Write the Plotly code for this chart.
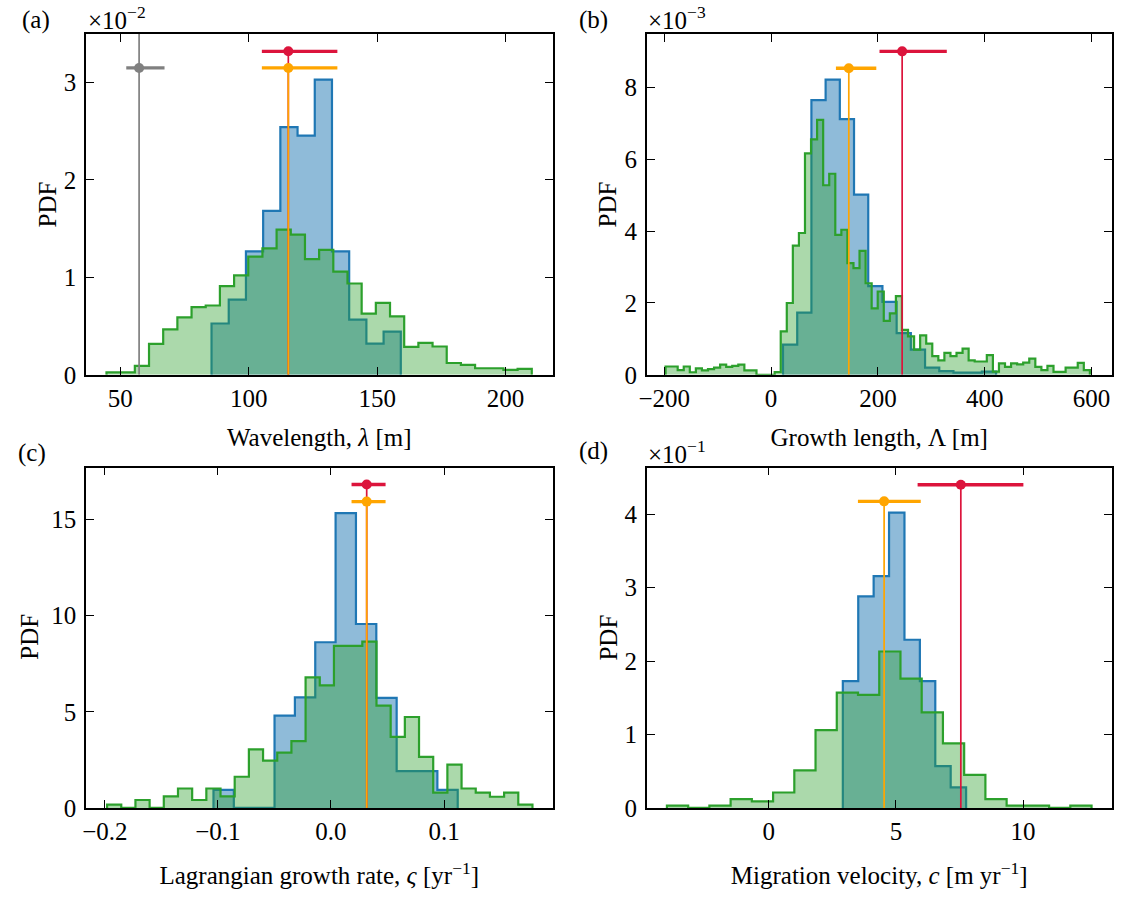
import numpy as np
import plotly.graph_objects as go

FONT = "Liberation Serif"
FS = 25
BLUE = "#1f77b4"
GREEN = "#2ca02c"
RED = "#dc143c"
ORANGE = "#ffa500"
GRAY = "#808080"

# ---------------- data ----------------
# (a) Wavelength [m]; PDF in units of 1e-2
a_blue_start, a_blue_width = 85.5, 6.70
a_blue = [0.526, 0.772, 1.267, 1.682, 2.541, 2.454, 3.030, 1.267, 0.566, 0.320, 0.442]
a_green_start, a_green_width = 44.6, 5.52
a_green = [0.024, 0.024, 0.091, 0.317, 0.465, 0.590, 0.694, 0.711, 0.910, 1.021,
           1.213, 1.298, 1.490, 1.439, 1.186, 1.281, 1.058, 0.937, 0.627, 0.738,
           0.600, 0.286, 0.327, 0.290, 0.121, 0.101, 0.067, 0.067, 0.051, 0.061]
a_gray = dict(x=57.3, y=3.149, minus=5.0, plus=9.9)
a_red = dict(x=115.4, y=3.32, minus=10.3, plus=19.1)
a_orange = dict(x=115.4, y=3.149, minus=10.3, plus=19.1)

# (b) Growth length [m]; PDF in units of 1e-3
b_blue_start, b_blue_width = 22.3, 26.6
b_blue = [0.84, 1.73, 7.65, 8.22, 7.12, 5.02, 2.47, 2.03, 1.16, 0.70, 0.20, 0.10, 0.06, 0.06, 0.09]
b_green_start, b_green_width = -197.6, 11.35
b_green = [0.23, 0.23, 0.13, 0.23, 0.07, 0.18, 0.12, 0.16, 0.20, 0.28,
           0.22, 0.25, 0.28, 0.12, 0.12, 0.0, 0.0, 0.0, 0.073, 1.21,
           2.00, 3.60, 3.95, 6.17, 6.56, 7.10, 5.28, 5.60, 3.90, 4.04,
           3.11, 2.97, 3.45, 2.55, 1.85, 2.32, 1.50, 1.71, 2.19, 1.25,
           1.07, 0.70, 1.10, 0.87, 0.52, 0.40, 0.61, 0.52, 0.61, 0.73,
           0.40, 0.37, 0.37, 0.55, 0.09, 0.32, 0.22, 0.32, 0.29, 0.34,
           0.45, 0.22, 0.13, 0.25, 0.08, 0.08, 0.20, 0.20, 0.33, 0.13]
b_red = dict(x=245.4, y=9.01, minus=42.4, plus=83.6)
b_orange = dict(x=145.5, y=8.54, minus=24.1, plus=51.5)

# (c) Lagrangian growth rate [1/yr]; PDF
c_blue_start, c_blue_width = -0.1039, 0.018
c_blue = [0.94, 0.0, 0.0, 4.80, 5.75, 8.62, 15.34, 9.57, 5.73, 1.91, 1.91, 0.94]
c_green_start, c_green_width = -0.198, 0.01254
c_green = [0.17, 0.0, 0.41, 0.0, 0.60, 1.01, 0.41, 1.01, 0.60, 1.62,
           3.05, 2.46, 2.88, 3.48, 6.79, 6.38, 8.43, 8.43, 8.65, 5.32,
           3.70, 4.73, 2.66, 0.80, 2.25, 1.01, 0.80, 0.58, 0.80, 0.17]
c_red = dict(x=0.0316, y=16.83, minus=0.0134, plus=0.0167)
c_orange = dict(x=0.0316, y=15.94, minus=0.0134, plus=0.0167)

# (d) Migration velocity [m/yr]; PDF in units of 1e-1
d_blue_start, d_blue_width = 2.913, 0.606
d_blue = [1.725, 2.88, 3.155, 4.02, 2.29, 1.725, 0.57, 0.28]
d_green_start, d_green_width = -4.005, 0.835
d_green = [0.03, 0.0, 0.03, 0.12, 0.09, 0.21, 0.51, 1.06, 1.57, 1.54,
           2.13, 1.76, 1.30, 0.88, 0.45, 0.12, 0.03, 0.03, 0.0, 0.03]
d_red = dict(x=7.554, y=4.40, minus=1.70, plus=2.46)
d_orange = dict(x=4.537, y=4.174, minus=1.03, plus=1.44)

# axis settings
panels = [
    dict(key="a", xr=[36.6, 218.3], yr=[0, 3.50], xt=[50, 100, 150, 200], xtt=["50", "100", "150", "200"],
         yt=[0, 1, 2, 3], xtitle="Wavelength, <i>λ</i> [m]", ylab=(40, 208), so=18),
    dict(key="b", xr=[-232.9, 637.9], yr=[0, 9.50], xt=[-200, 0, 200, 400, 600],
         xtt=["\u2212200", "0", "200", "400", "600"], yt=[0, 2, 4, 6, 8], xtitle="Growth length, Λ [m]",
         ylab=(604, 208), so=18),
    dict(key="c", xr=[-0.2167, 0.196], yr=[0, 17.71], xt=[-0.2, -0.1, 0.0, 0.1],
         xtt=["\u22120.2", "\u22120.1", "0.0", "0.1"], yt=[0, 5, 10, 15],
         xtitle="Lagrangian growth rate, <i>ς</i> [yr<sup>\u22121</sup>]", ylab=(22, 647), so=23),
    dict(key="d", xr=[-4.80, 13.49], yr=[0, 4.634], xt=[0, 5, 10], xtt=["0", "5", "10"],
         yt=[0, 1, 2, 3, 4], xtitle="Migration velocity, <i>c</i> [m yr<sup>\u22121</sup>]",
         ylab=(605, 648), so=23),
]

W, H = 1121, 898
colx = [(78.5, 548.5), (643.3, 1111.7)]
rowy = [(34.3, 380.7), (475.0, 820.7)]


def step_xy(start, width, heights):
    h = np.asarray(heights, dtype=float)
    edges = start + width * np.arange(len(h) + 1)
    x = np.concatenate([[edges[0]], edges, [edges[-1]]])
    y = np.concatenate([[0.0], h, [h[-1]], [0.0]])
    return x, y


fig = go.Figure()


def add_hist(start, width, heights, line_color, fill_color, xa, ya):
    x, y = step_xy(start, width, heights)
    fig.add_trace(go.Scatter(x=x, y=y, mode="lines", line=dict(shape="hv", color=line_color, width=2.2),
                             fill="tozeroy", fillcolor=fill_color, xaxis=xa, yaxis=ya,
                             showlegend=False, hoverinfo="skip"))


def add_marker(p, color, xa, ya, top=None):
    ytop = p["y"] if top is None else top
    fig.add_trace(go.Scatter(x=[p["x"], p["x"]], y=[0, ytop], mode="lines",
                             line=dict(color=color, width=1.7), xaxis=xa, yaxis=ya,
                             showlegend=False, hoverinfo="skip"))
    fig.add_trace(go.Scatter(x=[p["x"]], y=[p["y"]], mode="markers",
                             marker=dict(color=color, size=10),
                             error_x=dict(type="data", symmetric=False, array=[p["plus"]],
                                          arrayminus=[p["minus"]], color=color, thickness=3.3, width=0),
                             xaxis=xa, yaxis=ya, showlegend=False, hoverinfo="skip"))


hist_data = {
    "a": (a_blue_start, a_blue_width, a_blue, a_green_start, a_green_width, a_green),
    "b": (b_blue_start, b_blue_width, b_blue, b_green_start, b_green_width, b_green),
    "c": (c_blue_start, c_blue_width, c_blue, c_green_start, c_green_width, c_green),
    "d": (d_blue_start, d_blue_width, d_blue, d_green_start, d_green_width, d_green),
}
markers = {
    "a": [(a_red, RED), (a_orange, ORANGE)],
    "b": [(b_red, RED), (b_orange, ORANGE)],
    "c": [(c_red, RED), (c_orange, ORANGE)],
    "d": [(d_red, RED), (d_orange, ORANGE)],
}

annots = []
layout = {}
for i, p in enumerate(panels):
    n = i + 1
    xa = "x" if n == 1 else f"x{n}"
    ya = "y" if n == 1 else f"y{n}"
    col, row = i % 2, i // 2
    x0, x1 = colx[col]
    y0, y1 = rowy[row]
    bs, bw, bh, gs, gw, gh = hist_data[p["key"]]
    add_hist(bs, bw, bh, BLUE, "rgba(31,119,180,0.5)", xa, ya)
    add_hist(gs, gw, gh, GREEN, "rgba(44,160,44,0.4)", xa, ya)
    if p["key"] == "a":
        add_marker(a_gray, GRAY, xa, ya, top=p["yr"][1] * 1.05)
    for m, c in markers[p["key"]]:
        add_marker(m, c, xa, ya)
    axcommon = dict(showline=True, linecolor="black", linewidth=1.6, mirror="ticks",
                    ticks="inside", ticklen=8, tickwidth=1.3, tickcolor="black",
                    showgrid=False, zeroline=False,
                    tickfont=dict(family=FONT, size=FS, color="black"))
    layout["xaxis" if n == 1 else f"xaxis{n}"] = dict(
        axcommon, domain=[x0 / W, x1 / W], anchor=ya, range=p["xr"],
        tickmode="array", tickvals=p["xt"], ticktext=p["xtt"],
        title=dict(text=p["xtitle"], font=dict(family=FONT, size=FS, color="black"), standoff=p["so"]))
    layout["yaxis" if n == 1 else f"yaxis{n}"] = dict(
        axcommon, domain=[1 - y1 / H, 1 - y0 / H], anchor=xa, range=p["yr"],
        tickmode="array", tickvals=p["yt"], ticktext=[str(v) for v in p["yt"]],
        ticklabelstandoff=3)
    lx, ly = p["ylab"]
    annots.append(dict(text="PDF", x=lx / W, y=1 - ly / H, xref="paper", yref="paper",
                       xanchor="center", yanchor="middle", textangle=-90, showarrow=False,
                       font=dict(family=FONT, size=FS, color="black")))

labels = [("(a)", 28, 20), ("(b)", 590, 20), ("(c)", 24, 460), ("(d)", 590, 458)]
for t, x, y in labels:
    annots.append(dict(text=t, x=x / W, y=1 - y / H, xref="paper", yref="paper",
                       xanchor="center", yanchor="middle", showarrow=False,
                       font=dict(family=FONT, size=FS, color="black")))
offsets = [("\u00d710<sup>\u22122</sup>", 79, 37), ("\u00d710<sup>\u22123</sup>", 643, 37),
           ("\u00d710<sup>\u22121</sup>", 643, 477)]
for t, x, y in offsets:
    annots.append(dict(text=t, x=x / W, y=1 - y / H, xref="paper", yref="paper",
                       xanchor="left", yanchor="bottom", showarrow=False,
                       font=dict(family=FONT, size=FS, color="black")))

fig.update_layout(**layout)
fig.update_layout(width=W, height=H, margin=dict(l=0, r=0, t=0, b=0),
                  paper_bgcolor="white", plot_bgcolor="white",
                  annotations=annots, showlegend=False,
                  font=dict(family=FONT, size=FS, color="black"))
fig.write_html("out.html")
